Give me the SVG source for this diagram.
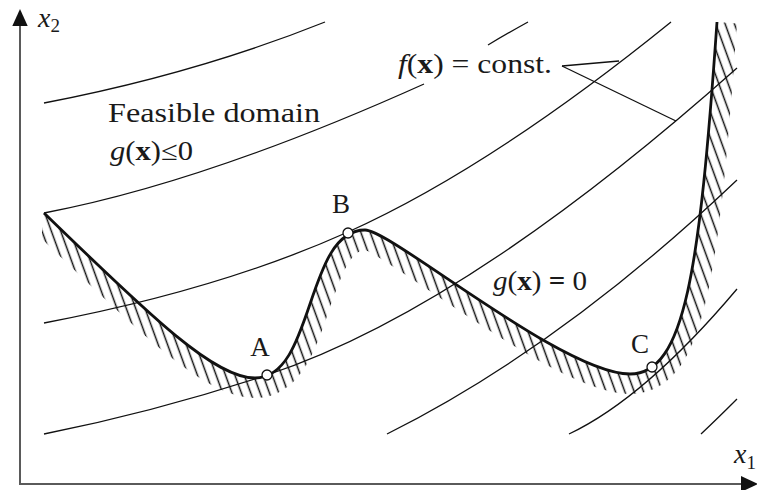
<svg xmlns="http://www.w3.org/2000/svg" width="757" height="490" viewBox="0 0 757 490">
<style>
 .axis{stroke:#5a5a5a;stroke-width:2;fill:none}
 .arrow{fill:#111}
 .contour{stroke:#111;stroke-width:1.3;fill:none}
 .g0{stroke:#111;stroke-width:2.8;fill:none;stroke-linejoin:round}
 .hatch{stroke:url(#hatchPat);stroke-width:40;fill:none}
 .pt{fill:#fff;stroke:#111;stroke-width:1.3}
 text{font-family:"Liberation Serif","Times New Roman",serif;font-size:27px;fill:#1a1a1a}
 .it{font-style:italic}
 .bd{font-weight:bold}
 .ax{font-size:28px}
 .sub{font-size:19px}
</style>
<defs>
 <pattern id="hatchPat" patternUnits="userSpaceOnUse" width="8.8" height="20" patternTransform="rotate(-20)">
  <line x1="4.4" y1="-2" x2="4.4" y2="22" stroke="#111" stroke-width="1.5"/>
 </pattern>
 <clipPath id="below">
  <path d="M44,213 C154,320 215,378 255,378 C315,378 305,230 365,230 C391.5,230 562.5,374 630,374 C685,374 699.5,272 717,22 L745,22 L745,490 L42,490 L42,213 Z"/>
 </clipPath>
</defs>

<g id="axes">
 <line class="axis" x1="20" y1="485" x2="20" y2="24"/>
 <polygon class="arrow" points="20,9 12.3,26 27.7,26"/>
 <line class="axis" x1="19" y1="484" x2="744" y2="484"/>
 <polygon class="arrow" points="758,484 741,476 741,492"/>
 <text class="ax" x="38" y="27"><tspan class="it">x</tspan><tspan class="sub" dy="5">2</tspan></text>
 <text class="ax" x="734" y="463"><tspan class="it">x</tspan><tspan class="sub" dy="6">1</tspan></text>
</g>

<g id="contours">
 <path class="contour" d="M44,103 Q195,74 325,22"/>
 <path class="contour" d="M44,213 Q205.5,182.3 424,84"/>
 <path class="contour" d="M488,45 Q508,33 528,22"/>
 <path class="contour" d="M44,323 Q220,289.6 348,232 Q491.4,167.5 671,22"/>
 <path class="contour" d="M44,434 Q156,411.6 267,375 Q465.7,309.4 737,68"/>
 <path class="contour" d="M387,434 Q561.4,346.8 737,180"/>
 <path class="contour" d="M569,434 Q645,398 737,289"/>
 <path class="contour" d="M701,434 Q718,418 737,399"/>
</g>

<g id="constraint">
 <path class="hatch" clip-path="url(#below)" d="M44,213 C154,320 215,378 255,378 C315,378 305,230 365,230 C391.5,230 562.5,374 630,374 C685,374 699.5,272 717,22"/>
 <path class="g0" d="M44,213 C154,320 215,378 255,378 C315,378 305,230 365,230 C391.5,230 562.5,374 630,374 C685,374 699.5,272 717,22"/>
</g>

<g id="connectors">
 <path class="contour" d="M562,66 L619,61"/>
 <path class="contour" d="M562,66 L676,121"/>
</g>

<g id="labels">
 <text x="108" y="122" textLength="212" lengthAdjust="spacingAndGlyphs">Feasible domain</text>
 <text x="110" y="160" textLength="83" lengthAdjust="spacingAndGlyphs"><tspan class="it">g</tspan>(<tspan class="bd">x</tspan>)≤0</text>
 <text x="398" y="73" textLength="154" lengthAdjust="spacingAndGlyphs"><tspan class="it">f</tspan>(<tspan class="bd">x</tspan>) = const.</text>
 <text x="493" y="290" textLength="94" lengthAdjust="spacingAndGlyphs"><tspan class="it">g</tspan>(<tspan class="bd">x</tspan>) <tspan class="bd">=</tspan> 0</text>
</g>

<g id="A">
 <circle class="pt" cx="267" cy="375" r="5"/>
 <text x="260" y="356" text-anchor="middle">A</text>
</g>
<g id="B">
 <circle class="pt" cx="348" cy="233" r="5"/>
 <text x="341" y="213" text-anchor="middle">B</text>
</g>
<g id="C">
 <circle class="pt" cx="652" cy="367" r="5"/>
 <text x="640" y="353" text-anchor="middle">C</text>
</g>
</svg>
